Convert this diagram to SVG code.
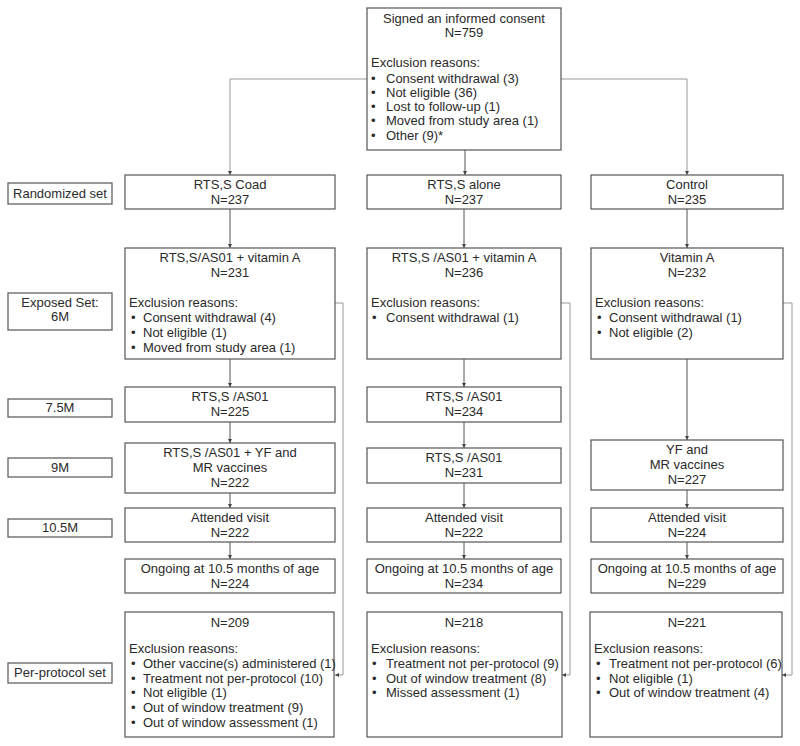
<svg xmlns="http://www.w3.org/2000/svg" width="800" height="746" viewBox="0 0 800 746">
<style>
.b{fill:#fff;stroke:#555;stroke-width:1.2}
.t{font-family:"Liberation Sans",Arial,sans-serif;font-size:13px;fill:#2a2a2a}
.c{text-anchor:middle}
.l{fill:none;stroke:#555;stroke-width:1}
.g{fill:none;stroke:#999;stroke-width:1}
</style>
<defs>
<marker id="a" markerWidth="5" markerHeight="5" refX="4" refY="2.5" orient="auto" markerUnits="userSpaceOnUse">
<path d="M0,0.5 L4,2.5 L0,4.5 Z" fill="#444"/>
</marker>
</defs>
<rect width="800" height="746" fill="#fff"/>
<g id="connectors">
<path class="g" d="M367,79 H230 V175" marker-end="url(#a)"/>
<path class="g" d="M561,79 H687 V175" marker-end="url(#a)"/>
<path class="l" d="M465,150 V175" marker-end="url(#a)"/>
<path class="l" d="M230,209 V248" marker-end="url(#a)"/>
<path class="l" d="M464,209 V248" marker-end="url(#a)"/>
<path class="l" d="M687,209 V248" marker-end="url(#a)"/>
<path class="l" d="M230,359 V387" marker-end="url(#a)"/>
<path class="l" d="M464,359 V387" marker-end="url(#a)"/>
<path class="l" d="M687,359 V440" marker-end="url(#a)"/>
<path class="l" d="M230,422 V443" marker-end="url(#a)"/>
<path class="l" d="M464,422 V448" marker-end="url(#a)"/>
<path class="l" d="M230,493 V508" marker-end="url(#a)"/>
<path class="l" d="M464,483 V508" marker-end="url(#a)"/>
<path class="l" d="M687,490 V508" marker-end="url(#a)"/>
<path class="l" d="M230,542 V559" marker-end="url(#a)"/>
<path class="l" d="M464,542 V559" marker-end="url(#a)"/>
<path class="l" d="M687,542 V559" marker-end="url(#a)"/>
<path class="g" d="M335,303 H343 V675 H335" marker-end="url(#a)"/>
<path class="g" d="M561,303 H570 V675 H562" marker-end="url(#a)"/>
<path class="g" d="M783,303 H792 V675 H782" marker-end="url(#a)"/>
</g>
<g id="consent">
<rect class="b" x="367" y="8" width="194" height="142"/>
<text class="t c" x="464" y="23">Signed an informed consent</text>
<text class="t c" x="464" y="37">N=759</text>
<text class="t" x="371" y="67">Exclusion reasons:</text>
<text class="t" x="371" y="83">•<tspan x="386">Consent withdrawal (3)</tspan></text>
<text class="t" x="371" y="97">•<tspan x="386">Not eligible (36)</tspan></text>
<text class="t" x="371" y="111">•<tspan x="386">Lost to follow-up (1)</tspan></text>
<text class="t" x="371" y="125">•<tspan x="386">Moved from study area (1)</tspan></text>
<text class="t" x="371" y="140">•<tspan x="386">Other (9)*</tspan></text>
</g>
<g id="lbl-randomized"><rect class="b" x="8" y="183" width="104" height="21"/><text class="t c" x="60" y="198">Randomized set</text></g>
<g id="lbl-exposed"><rect class="b" x="8" y="293" width="104" height="37"/><text class="t c" x="60" y="307">Exposed Set:</text><text class="t c" x="60" y="321">6M</text></g>
<g id="lbl-75"><rect class="b" x="8" y="399" width="104" height="18"/><text class="t c" x="60" y="412">7.5M</text></g>
<g id="lbl-9"><rect class="b" x="8" y="458" width="104" height="19"/><text class="t c" x="60" y="472">9M</text></g>
<g id="lbl-105"><rect class="b" x="8" y="519" width="104" height="18"/><text class="t c" x="60" y="532">10.5M</text></g>
<g id="lbl-pp"><rect class="b" x="8" y="663" width="104" height="20"/><text class="t c" x="60" y="677">Per-protocol set</text></g>

<g id="coad"><rect class="b" x="125" y="175" width="210" height="34"/><text class="t c" x="230" y="189">RTS,S Coad</text><text class="t c" x="230" y="204">N=237</text></g>
<g id="alone"><rect class="b" x="367" y="175" width="194" height="34"/><text class="t c" x="464" y="189">RTS,S alone</text><text class="t c" x="464" y="204">N=237</text></g>
<g id="control"><rect class="b" x="591" y="175" width="192" height="34"/><text class="t c" x="687" y="189">Control</text><text class="t c" x="687" y="204">N=235</text></g>

<g id="coad-6m"><rect class="b" x="125" y="248" width="210" height="111"/>
<text class="t c" x="230" y="262">RTS,S/AS01 + vitamin A</text><text class="t c" x="230" y="277">N=231</text>
<text class="t" x="129" y="307">Exclusion reasons:</text>
<text class="t" x="131" y="322">•<tspan x="143">Consent withdrawal (4)</tspan></text>
<text class="t" x="131" y="337">•<tspan x="143">Not eligible (1)</tspan></text>
<text class="t" x="131" y="352">•<tspan x="143">Moved from study area (1)</tspan></text></g>
<g id="alone-6m"><rect class="b" x="367" y="248" width="194" height="111"/>
<text class="t c" x="464" y="262">RTS,S /AS01 + vitamin A</text><text class="t c" x="464" y="277">N=236</text>
<text class="t" x="371" y="307">Exclusion reasons:</text>
<text class="t" x="372" y="322">•<tspan x="386">Consent withdrawal (1)</tspan></text></g>
<g id="control-6m"><rect class="b" x="591" y="248" width="192" height="111"/>
<text class="t c" x="687" y="262">Vitamin A</text><text class="t c" x="687" y="277">N=232</text>
<text class="t" x="595" y="307">Exclusion reasons:</text>
<text class="t" x="597" y="322">•<tspan x="609">Consent withdrawal (1)</tspan></text>
<text class="t" x="597" y="337">•<tspan x="609">Not eligible (2)</tspan></text></g>

<g id="coad-75"><rect class="b" x="125" y="387" width="210" height="35"/><text class="t c" x="230" y="401">RTS,S /AS01</text><text class="t c" x="230" y="416">N=225</text></g>
<g id="alone-75"><rect class="b" x="367" y="387" width="194" height="35"/><text class="t c" x="464" y="401">RTS,S /AS01</text><text class="t c" x="464" y="416">N=234</text></g>

<g id="coad-9"><rect class="b" x="125" y="443" width="210" height="50"/><text class="t c" x="230" y="457">RTS,S /AS01 + YF and</text><text class="t c" x="230" y="472">MR vaccines</text><text class="t c" x="230" y="487">N=222</text></g>
<g id="alone-9"><rect class="b" x="367" y="448" width="194" height="35"/><text class="t c" x="464" y="462">RTS,S /AS01</text><text class="t c" x="464" y="477">N=231</text></g>
<g id="control-9"><rect class="b" x="591" y="440" width="192" height="50"/><text class="t c" x="687" y="454">YF and</text><text class="t c" x="687" y="469">MR vaccines</text><text class="t c" x="687" y="484">N=227</text></g>

<g id="coad-105"><rect class="b" x="125" y="508" width="210" height="34"/><text class="t c" x="230" y="522">Attended visit</text><text class="t c" x="230" y="537">N=222</text></g>
<g id="alone-105"><rect class="b" x="367" y="508" width="194" height="34"/><text class="t c" x="464" y="522">Attended visit</text><text class="t c" x="464" y="537">N=222</text></g>
<g id="control-105"><rect class="b" x="591" y="508" width="192" height="34"/><text class="t c" x="687" y="522">Attended visit</text><text class="t c" x="687" y="537">N=224</text></g>

<g id="coad-ongoing"><rect class="b" x="125" y="559" width="210" height="34"/><text class="t c" x="230" y="573">Ongoing at 10.5 months of age</text><text class="t c" x="230" y="588">N=224</text></g>
<g id="alone-ongoing"><rect class="b" x="367" y="559" width="194" height="34"/><text class="t c" x="464" y="573">Ongoing at 10.5 months of age</text><text class="t c" x="464" y="588">N=234</text></g>
<g id="control-ongoing"><rect class="b" x="591" y="559" width="192" height="34"/><text class="t c" x="687" y="573">Ongoing at 10.5 months of age</text><text class="t c" x="687" y="588">N=229</text></g>

<g id="coad-pp"><rect class="b" x="125" y="612" width="209" height="125"/>
<text class="t c" x="230" y="627">N=209</text>
<text class="t" x="129" y="653">Exclusion reasons:</text>
<text class="t" x="131" y="668">•<tspan x="143">Other vaccine(s) administered (1)</tspan></text>
<text class="t" x="131" y="683">•<tspan x="143">Treatment not per-protocol (10)</tspan></text>
<text class="t" x="131" y="697">•<tspan x="143">Not eligible (1)</tspan></text>
<text class="t" x="131" y="712">•<tspan x="143">Out of window treatment (9)</tspan></text>
<text class="t" x="131" y="727">•<tspan x="143">Out of window assessment (1)</tspan></text></g>
<g id="alone-pp"><rect class="b" x="367" y="612" width="195" height="125"/>
<text class="t c" x="464" y="627">N=218</text>
<text class="t" x="371" y="653">Exclusion reasons:</text>
<text class="t" x="372" y="668">•<tspan x="386">Treatment not per-protocol (9)</tspan></text>
<text class="t" x="372" y="683">•<tspan x="386">Out of window treatment (8)</tspan></text>
<text class="t" x="372" y="697">•<tspan x="386">Missed assessment (1)</tspan></text></g>
<g id="control-pp"><rect class="b" x="590" y="612" width="192" height="125"/>
<text class="t c" x="687" y="627">N=221</text>
<text class="t" x="594" y="653">Exclusion reasons:</text>
<text class="t" x="596" y="668">•<tspan x="609">Treatment not per-protocol (6)</tspan></text>
<text class="t" x="596" y="683">•<tspan x="609">Not eligible (1)</tspan></text>
<text class="t" x="596" y="697">•<tspan x="609">Out of window treatment (4)</tspan></text></g>
</svg>
